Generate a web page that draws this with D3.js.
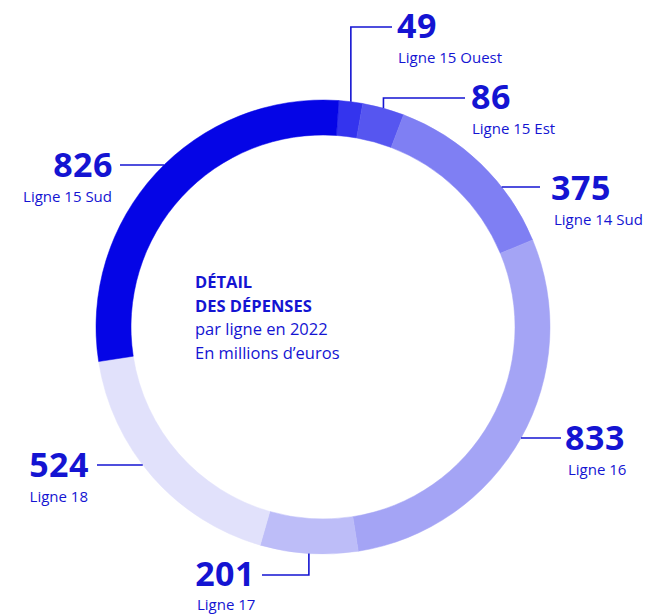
<!DOCTYPE html>
<html>
<head>
<meta charset="utf-8">
<script src="https://cdn.jsdelivr.net/npm/d3@7"></script>
<style>
    body { margin: 0; background: #fff; }
    text { font-family: "Open Sans", "Noto Sans", sans-serif; fill: #1414d2; }
    .value { font-size: 34px; font-weight: 700; letter-spacing: 0.5px; }
    .name { font-size: 15px; font-weight: 500; }
    .center-bold { font-size: 16.5px; font-weight: 700; }
    .center-reg { font-size: 16.5px; font-weight: 500; }
</style>
</head>
<body>
<div id="chart"></div>
<script>
// values in millions of euros, clockwise from the top
const lines = ["Ligne 15 Ouest", "Ligne 15 Est", "Ligne 14 Sud", "Ligne 16", "Ligne 17", "Ligne 18", "Ligne 15 Sud"];
const spending = [49, 86, 375, 833, 201, 524, 826];
const colors = ["#3434ee", "#5656f0", "#7f7ff3", "#a4a4f5", "#bdbdf8", "#e1e1fb", "#0505e6"];
const centerTitle = ["DÉTAIL", "DES DÉPENSES"];
const centerSub = ["par ligne en 2022", "En millions d\u2019euros"];

const width = 649, height = 614;
const cx = 323, cy = 327;
const outerR = 227, innerR = 192;
const startOffset = 4 * Math.PI / 180;

const svg = d3.select("#chart").append("svg")
    .attr("width", width)
    .attr("height", height);

const data = lines.map((name, i) => ({name: name, value: spending[i], color: colors[i]}));

const pie = d3.pie()
    .sort(null)
    .value(d => d.value)
    .startAngle(startOffset)
    .endAngle(startOffset + 2 * Math.PI);

const arc = d3.arc()
    .innerRadius(innerR)
    .outerRadius(outerR);

const arcs = pie(data);

const ring = svg.append("g")
    .attr("transform", "translate(" + cx + "," + cy + ")");

ring.selectAll("path")
    .data(arcs)
    .enter()
    .append("path")
    .attr("d", arc)
    .attr("fill", d => d.data.color)
    .attr("stroke", d => d.data.color)
    .attr("stroke-width", 0.5);

// label layout: kind "h" = horizontal leader at label y, "v" = elbow from segment middle
const layout = {
    "Ligne 15 Ouest": {kind: "v", ly: 27, lx: 392, tx: 397, ty: 38, anchor: "start", nx: 398, gap: 25},
    "Ligne 15 Est":   {kind: "v", ly: 98, lx: 465, tx: 471, ty: 109, anchor: "start", nx: 472, gap: 25},
    "Ligne 14 Sud":   {kind: "h", ly: 187, lx: 540, tx: 551, ty: 200, anchor: "start", side: 1, nx: 554, gap: 25},
    "Ligne 16":       {kind: "h", ly: 438, lx: 561, tx: 565, ty: 450, anchor: "start", side: 1, nx: 568, gap: 25},
    "Ligne 17":       {kind: "v", ly: 575, lx: 262, tx: 255, ty: 586, anchor: "end", nx: 197, nanchor: "start", gap: 24},
    "Ligne 18":       {kind: "h", ly: 465, lx: 97, tx: 89, ty: 477, anchor: "end", side: -1, nx: 88, gap: 25},
    "Ligne 15 Sud":   {kind: "h", ly: 165, lx: 120, tx: 113, ty: 177, anchor: "end", side: -1, nx: 112, gap: 25}
};

const labels = svg.append("g");

arcs.forEach(a => {
    const L = layout[a.data.name];
    let pts;
    if (L.kind === "v") {
        const mid = (a.startAngle + a.endAngle) / 2;
        const px = cx + outerR * Math.sin(mid);
        const py = cy - outerR * Math.cos(mid);
        pts = [[px, py], [px, L.ly], [L.lx, L.ly]];
    } else {
        const dy = L.ly - cy;
        const px = cx + L.side * Math.sqrt(outerR * outerR - dy * dy);
        pts = [[px, L.ly], [L.lx, L.ly]];
    }
    labels.append("path")
        .attr("d", d3.line()(pts))
        .attr("fill", "none")
        .attr("stroke", "#1414d2")
        .attr("stroke-width", 1.6);

    labels.append("text")
        .attr("class", "value")
        .attr("x", L.tx)
        .attr("y", L.ty)
        .attr("text-anchor", L.anchor)
        .text(a.data.value);
    labels.append("text")
        .attr("class", "name")
        .attr("x", L.nx)
        .attr("y", L.ty + L.gap)
        .attr("text-anchor", L.nanchor || L.anchor)
        .text(a.data.name);
});

// centre caption
const caption = svg.append("g");
centerTitle.concat(centerSub).forEach((t, i) => {
    caption.append("text")
        .attr("class", i < centerTitle.length ? "center-bold" : "center-reg")
        .attr("x", 195)
        .attr("y", 288 + i * 23.5)
        .text(t);
});
</script>
</body>
</html>
